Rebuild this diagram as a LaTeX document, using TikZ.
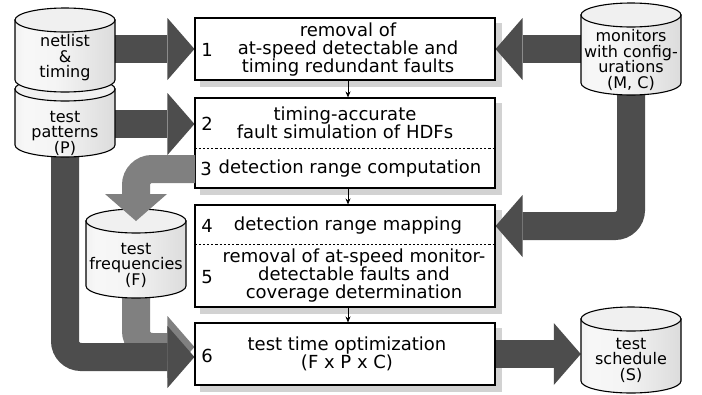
\documentclass[tikz,border=0pt]{standalone}
\usepackage{fontspec}
\setmainfont{DejaVu Sans}
\usetikzlibrary{arrows.meta}
\pgfdeclarehorizontalshading{cylshade}{100bp}{color(0bp)=(gray!34); color(30bp)=(gray!6); color(45bp)=(gray!8); color(100bp)=(gray!44)}
\pgfdeclarelayer{shadowlayer}
\pgfdeclarelayer{arrowlayer}
\pgfsetlayers{shadowlayer,arrowlayer,main}
\definecolor{darkarrow}{HTML}{4D4D4D}
\definecolor{midarrow}{HTML}{808080}
\tikzset{
  stepbox/.style={draw, line width=1.1pt, fill=white, minimum width=300pt, inner sep=0pt},
  boxtext/.style={align=center, inner sep=0pt, font=\fontsize{18}{18}\selectfont},
  numtext/.style={inner sep=0pt, font=\fontsize{18}{18}\selectfont},
  cyltext/.style={align=center, inner sep=0pt, minimum width=100pt, font=\fontsize{16}{15.5}\selectfont},
  cylbody/.style={draw, line width=1.1pt, shade, shading=cylshade},
  cyltop/.style={draw, line width=1.1pt, fill=gray!12},
  bigarrow/.style={line width=28pt, rounded corners=16pt, -{Triangle[length=27pt,width=62pt,line width=0pt]}},
  bigdark/.style={bigarrow, color=darkarrow},
  bigmid/.style={bigarrow, color=midarrow},
  smallarrow/.style={line width=0.8pt, -{Stealth[length=6pt,width=5pt]}},
  sepline/.style={line width=0.8pt, dash pattern=on 2.2pt off 2pt},
  shadowfill/.style={fill=gray!35}
}
\newcommand\dbcyl[6]{%
  \path[cylbody] (#2-50,#3) -- (#2-50,#4) arc[start angle=180,end angle=0,x radius=50,y radius=12] -- (#2+50,#3) -- cycle;
  \path[cyltop] (#2,#3) ellipse[x radius=50,y radius=12];
  \node[cyltext] (#1) at (#2,#5) {#6};
  \coordinate (#1top) at (#2,#3);
  \coordinate (#1bot) at (#2,#4);
}
\begin{document}
\begin{tikzpicture}[x=1pt,y=-1pt]
\useasboundingbox (0,0) rectangle (702,394);
\begin{pgfonlayer}{shadowlayer}
  \fill[white] (0,0) rectangle (702,394);
\end{pgfonlayer}

% process boxes
\node[stepbox, minimum height=62pt] (box1) at (345,49) {};
\node[stepbox, minimum height=90pt] (box2) at (345,143) {};
\node[stepbox, minimum height=102pt] (box3) at (345,256) {};
\node[stepbox, minimum height=62pt] (box4) at (345,354) {};

\begin{pgfonlayer}{shadowlayer}
  \foreach \b in {box1,box2,box3,box4}
    \fill[shadowfill] ([shift={(6pt,-6pt)}]\b.south west) rectangle ([shift={(6pt,-6pt)}]\b.north east);
\end{pgfonlayer}

\coordinate (s2) at (0,148);
\coordinate (s3) at (0,244);
\draw[sepline] (box2.west |- s2) -- (box2.east |- s2);
\draw[sepline] (box3.west |- s3) -- (box3.east |- s3);

\node[numtext] (num1) at (207,50) {1};
\node[boxtext] (t1) at (348,50) {removal of\\at-speed detectable and\\timing redundant faults};
\node[numtext] (num2) at (207,124) {2};
\node[boxtext] (t2) at (345,123) {timing-accurate\\fault simulation of HDFs};
\node[numtext] (num3) at (206,169) {3};
\node[boxtext] (t3) at (350,169) {detection range computation};
\node[numtext] (num4) at (207,226) {4};
\node[boxtext] (t4) at (348,226) {detection range mapping};
\node[numtext] (num5) at (207,277) {5};
\node[boxtext] (t5) at (354,276) {removal of at-speed monitor-\\detectable faults and\\coverage determination};
\node[numtext] (num6) at (207,356) {6};
\node[boxtext] (t6) at (347,354) {test time optimization\\(F x P x C)};

\draw[smallarrow] ([xshift=3pt]box1.south) -- ([xshift=3pt]box2.north);
\draw[smallarrow] ([xshift=3pt]box2.south) -- ([xshift=3pt]box3.north);
\draw[smallarrow] ([xshift=3pt]box3.south) -- ([xshift=3pt]box4.north);

% data bases
\dbcyl{pat}{65}{89}{145}{133}{test\\patterns\\(P)}
\dbcyl{net}{65}{20}{80}{58}{netlist\\\&\\timing}
\dbcyl{mon}{631}{15}{83}{60}{monitors\\with config-\\urations\\(M, C)}
\dbcyl{freq}{136}{221}{286}{265}{test\\frequencies\\(F)}
\dbcyl{sched}{631}{319}{381}{360}{test\\schedule\\(S)}

\coordinate[yshift=7pt] (g6) at (box4.west);
\coordinate[yshift=-3pt] (d6) at (box4.west);
\coordinate[xshift=0.6pt] (g3) at (box2.west |- num3);

\begin{pgfonlayer}{arrowlayer}
  \draw[bigdark] (net.east |- box1.west) -- (box1.west);
  \draw[bigdark] (pat.east |- num2) -- (box2.west |- num2);
  \draw[bigdark] (mon.west |- box1.east) -- (box1.east);
  \draw[bigdark] (monbot) -- (monbot |- num4) -- (box3.east |- num4);
  \draw[bigmid] (freqbot) -- (freqbot |- g6) -- (g6);
  \draw[bigdark] (patbot) -- (patbot |- d6) -- (d6);
  \draw[bigdark] (box4.east) -- (sched.west |- box4.east);
\end{pgfonlayer}
\draw[bigmid] (g3) -- (freqtop |- g3) -- (freqtop);
\end{tikzpicture}
\end{document}
